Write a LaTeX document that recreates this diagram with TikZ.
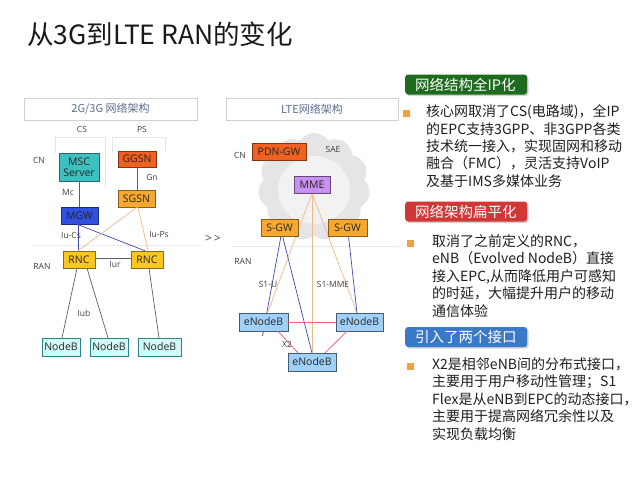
\documentclass[tikz,border=0pt]{standalone}
\usepackage{fontspec}
\setmainfont{Noto Sans CJK SC}
\newfontfamily\latf{Open Sans}
\usetikzlibrary{shapes.symbols,shadows}
\definecolor{cteal}{HTML}{3CC0C0}
\definecolor{cred}{HTML}{F06020}
\definecolor{corange}{HTML}{F8A830}
\definecolor{cblue}{HTML}{3050E0}
\definecolor{cyellow}{HTML}{F8C820}
\definecolor{cnodeb}{HTML}{D2F8F8}
\definecolor{cpurple}{HTML}{C890F0}
\definecolor{cenb}{HTML}{A0D0F8}
\definecolor{lgray}{HTML}{606060}
\definecolor{lblue}{HTML}{4048A8}
\definecolor{lorange}{HTML}{F0B888}
\definecolor{lpink}{HTML}{E06878}
\definecolor{hgreen}{HTML}{1E6A1E}
\definecolor{hred}{HTML}{D03838}
\definecolor{hblue}{HTML}{3A78C8}
\definecolor{bullet}{HTML}{F0A040}
\definecolor{hdrtext}{HTML}{5A6E90}
\begin{document}
\begin{tikzpicture}[x=1pt,y=-1pt,
  box/.style={draw=#1!55!black, fill=#1, inner sep=0pt, align=center,
    font=\latf\fontsize{10.5}{11.5}\selectfont, text=black!85},
  lbl/.style={font=\latf\fontsize{8.5}{9}\selectfont, text=black!75, inner sep=0pt},
  hdr/.style={draw=black!18, fill=white, inner sep=0pt,
    font=\fontsize{11}{11}\selectfont, text=hdrtext},
  faint/.style={draw=black!10, line width=0.6pt},
  divline/.style={draw=black!8, line width=0.6pt},
  cgray/.style={draw=lgray, line width=0.7pt},
  cblueline/.style={draw=lblue, line width=0.7pt},
  corline/.style={draw=lorange, line width=0.7pt},
  cpink/.style={draw=lpink, line width=0.8pt},
  heading/.style={fill=#1, rounded corners=3pt, inner sep=0pt, anchor=west,
    minimum width=122pt, minimum height=20pt, text=white, text width=114pt,
    font=\fontsize{14.5}{15}\selectfont, align=left,
    drop shadow={shadow xshift=1.5pt, shadow yshift=-1.5pt, fill=black!35}},
  bodytext/.style={anchor=north west, inner sep=0pt, align=left,
    font=\fontsize{14}{17.4}\selectfont, text=black!88},
  bul/.style={fill=bullet, minimum size=7pt, inner sep=0pt}
]
\useasboundingbox (0,0) rectangle (640,480);
\fill[white] (0,0) rectangle (640,480);

% title
\node[anchor=west, inner sep=0pt, font=\fontsize{26.5}{27}\selectfont, text=black!90] (title) at (27,34) {从3G到LTE RAN的变化};

% panel headers
\node[hdr, minimum width=173pt, minimum height=22pt] (hdrl) at (110.5,109) {2G/3G 网络架构};
\node[hdr, minimum width=172pt, minimum height=22pt] (hdrr) at (312,109) {LTE网络架构};

% faint CS/PS frames and dividers
\draw[faint] (55,153) -- (55,137) -- (105,137) -- (105,187);
\draw[faint] (112,153) -- (112,137) -- (165,137) -- (165,152);
\draw[divline] (33,245) -- (202,245);
\draw[divline] (232,246) -- (398,246);

% left labels
\node[lbl] (cs) at (82,129) {CS};
\node[lbl] (ps) at (142,129) {PS};
\node[lbl] (cnl) at (39,160) {CN};
\node[lbl] (ranl) at (42,266) {RAN};

% left nodes
\node[box=cteal, minimum width=40pt, minimum height=28pt] (msc) at (79,167) {MSC\\Server};
\node[box=cred, minimum width=38pt, minimum height=16pt] (ggsn) at (137,159) {GGSN};
\node[box=corange, minimum width=37pt, minimum height=17pt] (sgsn) at (136.5,198.5) {SGSN};
\node[box=cblue, minimum width=37pt, minimum height=17pt] (mgw) at (79.5,215.5) {MGW};
\node[box=cyellow, minimum width=32pt, minimum height=17pt] (rnc1) at (79,259.5) {RNC};
\node[box=cyellow, minimum width=32pt, minimum height=17pt] (rnc2) at (147,259.5) {RNC};
\node[box=cnodeb, draw=cteal!70!black, minimum width=38pt, minimum height=18pt] (nb1) at (61,347) {NodeB};
\node[box=cnodeb, draw=cteal!70!black, minimum width=38pt, minimum height=18pt] (nb2) at (109,347) {NodeB};
\node[box=cnodeb, draw=cteal!70!black, minimum width=43pt, minimum height=18pt] (nb3) at (159.5,347) {NodeB};

% left connectors
\draw[cgray] (msc.south) -- (msc.south |- mgw.north);
\draw[cgray] (ggsn.south) -- (ggsn.south |- sgsn.north);
\draw[cblueline] ([xshift=-1.5pt]mgw.south) -- ([xshift=-1.5pt]mgw.south |- rnc1.north);
\draw[cblueline] ([xshift=-2.5pt]mgw.south) -- ([xshift=-2pt]rnc2.north);
\draw[corline] ([xshift=0.5pt]sgsn.south) -- ([xshift=-1pt]rnc1.north);
\draw[corline] ([xshift=1.5pt]sgsn.south) -- ([xshift=1pt]rnc2.north);
\draw[cgray] ([yshift=1.5pt]rnc1.east) -- ([yshift=1.5pt]rnc2.west);
\draw[cgray] ([xshift=-2pt]rnc1.south) -- ([xshift=1pt]nb1.north);
\draw[cgray] ([xshift=8pt]rnc1.south) -- ([xshift=-1pt]nb2.north);
\draw[cgray] ([xshift=2pt]rnc2.south) -- ([xshift=-0.5pt]nb3.north);

% left connector labels
\node[lbl] (mcl) at (68,193) {Mc};
\node[lbl] (gnl) at (152,177) {Gn};
\node[lbl] (iucs) at (71,235) {Iu-Cs};
\node[lbl] (iups) at (159,235) {Iu-Ps};
\node[lbl] (iurl) at (115,265) {Iur};
\node[lbl] (iubl) at (84,313) {Iub};

% arrow text
\node[lbl, font=\latf\fontsize{12}{12}\selectfont, text=black!70] (gtgt) at (213,239) {>\,>};

% cloud
\node[cloud, cloud puffs=11, cloud puff arc=110, aspect=1.05, fill=black!10, draw=none,
  minimum width=112pt, minimum height=108pt, inner sep=0pt] (cloud) at (314,187) {};
\fill[black!5] (314,190) ellipse (36pt and 34pt);

% right labels
\node[lbl] (cnr) at (240,155) {CN};
\node[lbl] (sae) at (333,149) {SAE};
\node[lbl] (ranr) at (243,261) {RAN};

\coordinate (stub) at (262.5,336);
\coordinate (enb1top) at (267.5,313);
\coordinate (enb2top) at (357,313);
\coordinate (mmebot) at (312,193);
\coordinate (sgw1a) at (281,236);
\coordinate (sgw1b) at (282.5,236);
\coordinate (sgw2a) at (348.5,236);
\coordinate (enb3top) at (312,353);

% right connectors (drawn before the boxes)
\draw[cblueline] (sgw1a) -- (stub);
\draw[cblueline] (sgw1b) -- (enb3top);
\draw[corline] (mmebot) -- (enb1top);
\draw[corline] (mmebot) -- (enb3top);
\draw[corline] (mmebot) -- (enb2top);
\draw[cblueline] (sgw2a) -- (enb2top);

\node[box=cred, minimum width=54pt, minimum height=17pt] (pdn) at (279,151.5) {PDN-GW};
\node[box=cpurple, draw=cpurple!50!black, minimum width=36pt, minimum height=17pt] (mme) at (312,184.5) {MME};
\node[box=corange, minimum width=37pt, minimum height=17pt] (sgw1) at (279.5,227.5) {S-GW};
\node[box=corange, minimum width=39pt, minimum height=17pt] (sgw2) at (347.5,227.5) {S-GW};
\node[box=cenb, draw=cenb!45!black, minimum width=49pt, minimum height=18pt] (enb1) at (263.5,322) {eNodeB};
\node[box=cenb, draw=cenb!45!black, minimum width=47pt, minimum height=18pt] (enb2) at (359.5,322) {eNodeB};
\node[box=cenb, draw=cenb!45!black, minimum width=48pt, minimum height=18pt] (enb3) at (312,362) {eNodeB};

\draw[cpink] (enb1.east) -- (enb2.west);
\draw[cpink] ([xshift=14.5pt]enb1.south) -- ([xshift=-14pt]enb3.north);
\draw[cpink] ([xshift=-12.5pt]enb2.south) -- ([xshift=13pt]enb3.north);

\node[lbl] (s1u) at (268,284) {S1-U};
\node[lbl] (s1mme) at (333,284) {S1-MME};
\node[lbl] (x2) at (287,344) {X2};

% right text panel
\node[heading=hgreen] (h1) at (405,84.5) {\hspace*{6pt}网络结构全IP化};
\node[bul] (b1) at (406.5,113) {};
\node[bodytext] (t1) at (426,104.5) {核心网取消了CS(电路域)，全IP\\的EPC支持3GPP、非3GPP各类\\技术统一接入，实现固网和移动\\融合（FMC），灵活支持VoIP\\及基于IMS多媒体业务};

\node[heading=hred] (h2) at (405,211.5) {\hspace*{6pt}网络架构扁平化};
\node[bul] (b2) at (410.5,243) {};
\node[bodytext] (t2) at (432,234.5) {取消了之前定义的RNC，\\eNB（Evolved NodeB）直接\\接入EPC,从而降低用户可感知\\的时延，大幅提升用户的移动\\通信体验};

\node[heading=hblue] (h3) at (405,337) {\hspace*{6pt}引入了两个接口};
\node[bul] (b3) at (410.5,366) {};
\node[bodytext] (t3) at (432,357.5) {X2是相邻eNB间的分布式接口，\\主要用于用户移动性管理；S1\\Flex是从eNB到EPC的动态接口，\\主要用于提高网络冗余性以及\\实现负载均衡};
\end{tikzpicture}
\end{document}
